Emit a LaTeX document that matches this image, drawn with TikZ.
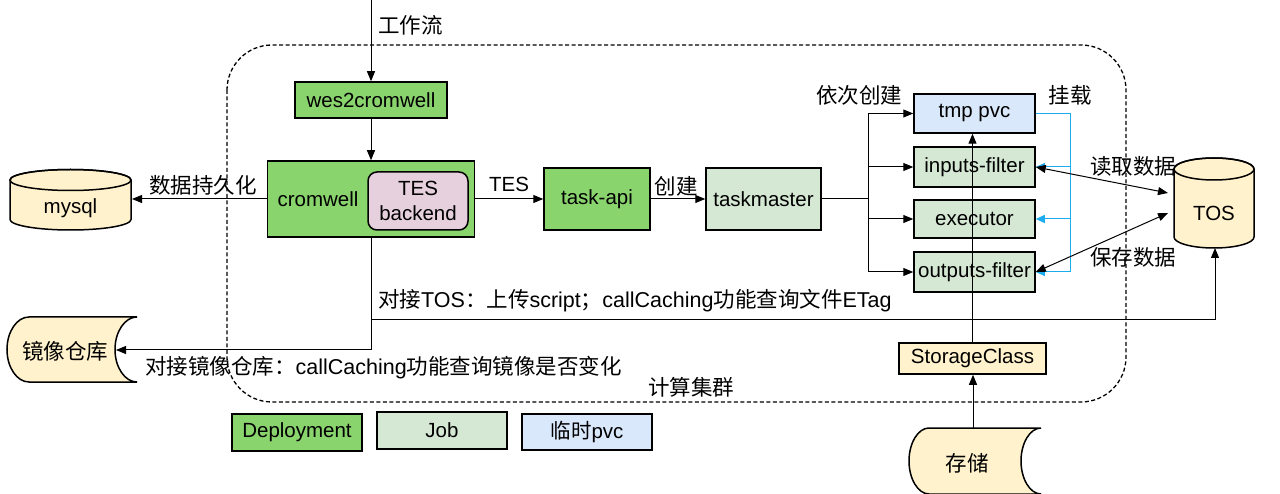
\documentclass[tikz,border=0pt]{standalone}
\usepackage{fontspec}
\setmainfont{Liberation Sans}
\newfontfamily\cjk{Noto Sans CJK SC}
\usetikzlibrary{arrows.meta}
\definecolor{dgreen}{RGB}{138,212,110}
\definecolor{lgreen}{RGB}{213,232,212}
\definecolor{lblue}{RGB}{218,232,252}
\definecolor{lyellow}{RGB}{255,242,204}
\definecolor{lpink}{RGB}{230,208,222}
\definecolor{mblue}{RGB}{27,172,240}
\tikzset{
  box/.style={draw, line width=1.5pt, inner sep=0pt, align=center},
  dep/.style={box, fill=dgreen},
  job/.style={box, fill=lgreen},
  pvc/.style={box, fill=lblue},
  yel/.style={box, fill=lyellow},
  lbl/.style={inner sep=0pt},
  zlbl/.style={inner sep=0pt, font=\fontsize{21.5}{25}\selectfont},
  arr/.style={-{Triangle[length=10pt,width=8pt]}, line width=1pt},
  darr/.style={{Triangle[length=10pt,width=8pt]}-{Triangle[length=10pt,width=8pt]}, line width=1pt},
  barr/.style={-{Triangle[length=9pt,width=8pt]}, line width=1pt, draw=mblue},
  shp/.style={line width=1.5pt, fill=lyellow},
}
\begin{document}
\begin{tikzpicture}[x=1pt,y=-1pt,font=\fontsize{20.5}{24}\selectfont]
\useasboundingbox (0,0) rectangle (1280,494);
% cluster
\draw[dashed, dash pattern=on 4pt off 2.5pt, line width=1.3pt, rounded corners=45pt] (227,45) rectangle (1126,402);
\node[zlbl] (clus) at (691,387) {\cjk 计算集群};

% nodes
\node[dep, minimum width=152, minimum height=36] (wes) at (371,100) {wes2cromwell};
\node[dep, minimum width=207, minimum height=76] (crom) at (371,199) {};
\node[lbl] (cromt) at (318,199) {cromwell};
\node[box, fill=lpink, rounded corners=9pt, minimum width=100, minimum height=58] (tesb) at (418,201) {TES\\[1pt]backend};
\node[dep, minimum width=106, minimum height=62] (api) at (597,199) {task-api};
\node[job, minimum width=115, minimum height=62] (tm) at (763.5,199) {taskmaster};
\node[pvc, minimum width=121, minimum height=39] (tmp) at (974.5,113.5) {tmp pvc};
\node[job, minimum width=121, minimum height=40] (inf) at (974.5,167) {inputs-filter};
\node[job, minimum width=121, minimum height=38] (exe) at (974.5,219) {executor};
\node[job, minimum width=121, minimum height=40] (outf) at (974.5,272) {outputs-filter};
\node[yel, minimum width=147, minimum height=31] (sc) at (972.5,358.5) {StorageClass};

% mysql cylinder
\filldraw[shp] (10,180) -- (10,219.5) arc[start angle=180, end angle=0, x radius=60.5, y radius=10.5] -- (131,180) arc[start angle=0, end angle=-180, x radius=60.5, y radius=10.5] -- cycle;
\draw[line width=1.5pt] (70.5,180) ellipse[x radius=60.5, y radius=10.5];
\node[lbl] (mysql) at (70.5,208) {mysql};
\coordinate (mysqlR) at (132,199);

% TOS cylinder
\filldraw[shp] (1174,169) -- (1174,237) arc[start angle=180, end angle=0, x radius=40, y radius=11] -- (1254,169) arc[start angle=0, end angle=-180, x radius=40, y radius=11] -- cycle;
\draw[line width=1.5pt] (1214,169) ellipse[x radius=40, y radius=11];
\node[lbl] (tos) at (1214,213) {TOS};
\coordinate (tosA) at (1168,193);
\coordinate (tosB) at (1168,213);
\coordinate (tosBot) at (1215,248);

% mirror repo (data storage shape)
\filldraw[shp] (29,317) -- (137,317) .. controls (124.9,317) and (115,331.6) .. (115,349.5) .. controls (115,367.4) and (124.9,382) .. (137,382) -- (29,382) .. controls (16.9,382) and (7,367.4) .. (7,349.5) .. controls (7,331.6) and (16.9,317) .. (29,317) -- cycle;
\node[zlbl] (mir) at (65,351) {\cjk 镜像仓库};
\coordinate (mirR) at (116,350);

% storage
\filldraw[shp] (929,428) -- (1041,428) .. controls (1030,428) and (1021,443.1) .. (1021,461) .. controls (1021,478.9) and (1030,494) .. (1041,494) -- (929,494) .. controls (918,494) and (909,478.9) .. (909,461) .. controls (909,443.1) and (918,428) .. (929,428) -- cycle;
\node[zlbl] (stor) at (967,463) {\cjk 存储};
\coordinate (storTop) at (973,428);

% legend
\node[dep, minimum width=130, minimum height=37] (lg1) at (297,432.5) {Deployment};
\node[job, minimum width=130, minimum height=37] (lg2) at (442,430.5) {Job};
\node[pvc, minimum width=130, minimum height=36] (lg3) at (587,432) {{\cjk 临时}pvc};

% top input
\coordinate (topIn) at (371,0);
\draw[arr] (topIn) -- (wes.north);
\node[zlbl, anchor=west] at (378,25) {\cjk 工作流};
\draw[arr] (wes.south) -- (crom.north);

% cromwell -> mysql
\draw[arr] (crom.west) -- (mysqlR);
\node[zlbl] at (203,185) {\cjk 数据持久化};

% TES
\draw[arr] (crom.east) -- (api.west);
\node[lbl] at (509,184) {TES};
\draw[arr] (api.east) -- (tm.west);
\node[zlbl] at (676,186) {\cjk 创建};

% fan-out
\coordinate (j) at (868,199);
\draw[line width=1pt] (tm.east) -- (j);
\draw[arr] (j) |- (tmp.west);
\draw[arr] (j) |- (inf.west);
\draw[arr] (j) |- (exe.west);
\draw[arr] (j) |- (outf.west);
\node[zlbl] at (859,95) {\cjk 依次创建};

% mount (blue)
\coordinate (b) at (1070,113.5);
\draw[line width=1pt, mblue] (tmp.east) -- (b);
\draw[barr] (b) |- (inf.east);
\draw[barr] (b) |- (exe.east);
\draw[barr] (b) |- (outf.east);
\node[zlbl] at (1070,95) {\cjk 挂载};

% TOS data
\draw[darr] (inf.east) -- (tosA);
\draw[darr] (outf.east) -- (tosB);
\node[zlbl] at (1133,166) {\cjk 读取数据};
\node[zlbl] at (1133,257) {\cjk 保存数据};

% storage class
\draw[arr] (sc.north) -- (sc.north |- tmp.south);
\draw[arr] (storTop) -- (storTop |- sc.south);

% cromwell bottom connections
\coordinate (t1) at (371,320);
\draw[arr] (crom.south) |- (mirR);
\draw[arr] (t1) -| (tosBot);
\node[zlbl, anchor=west] at (378,301) {{\cjk 对接}TOS{\cjk ：上传}script{\cjk ；}callCaching{\cjk 功能查询文件}ETag};
\node[zlbl, anchor=west] at (145,368) {{\cjk 对接镜像仓库：}callCaching{\cjk 功能查询镜像是否变化}};
\end{tikzpicture}
\end{document}
